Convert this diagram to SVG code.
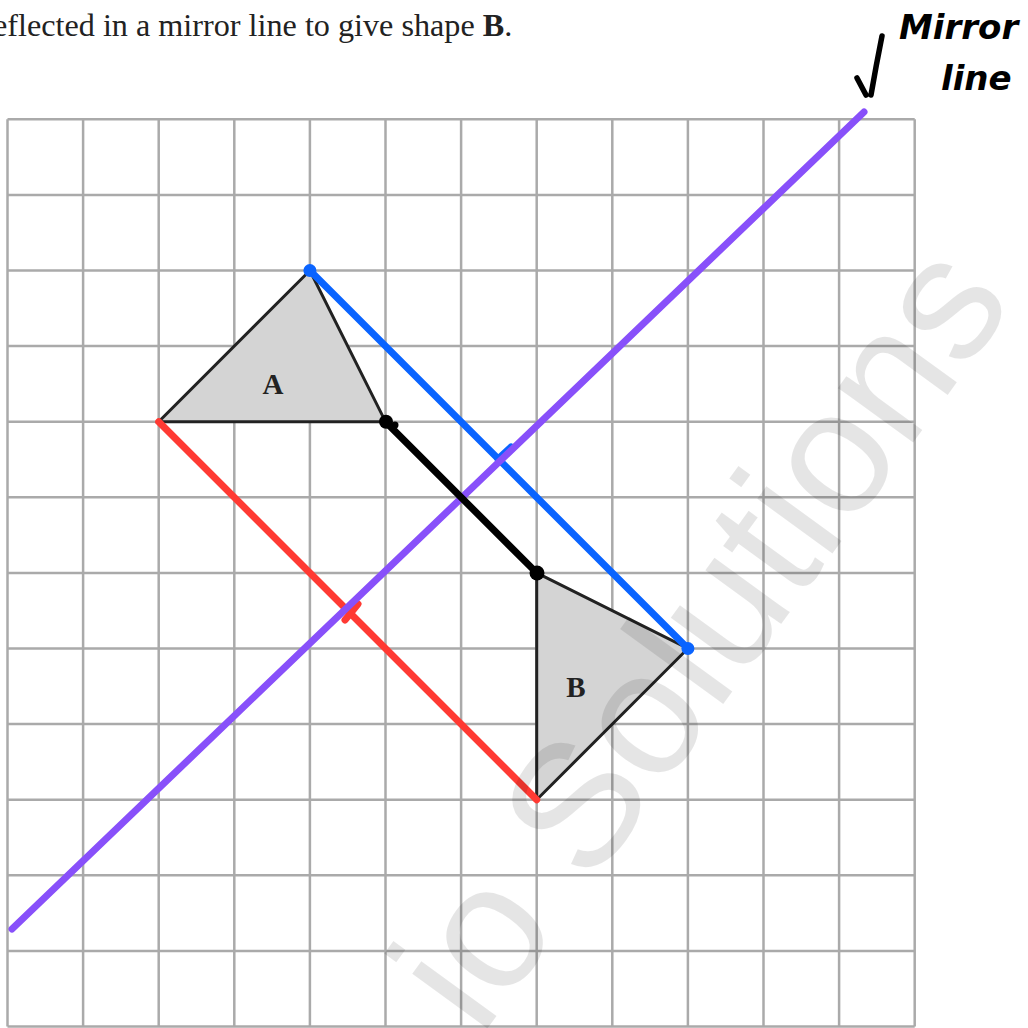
<svg xmlns="http://www.w3.org/2000/svg" width="1028" height="1028" viewBox="0 0 1028 1028">
<style>
.grid{stroke:#aaaaaa;stroke-width:2.5;fill:none}
.tri{fill:#d4d4d4;stroke:#222222;stroke-width:3;stroke-linejoin:miter}
.lbl{font-family:"Liberation Serif",serif;font-weight:bold;font-size:29px;fill:#222222;text-anchor:middle}
.hand{font-family:"DejaVu Sans",sans-serif;font-weight:bold;font-style:italic;font-size:34px;fill:#000}
.conn{fill:none;stroke-linecap:round;stroke-width:7}
</style>
<rect width="1028" height="1028" fill="#ffffff"/>
<text x="-7" y="36" font-family="Liberation Serif, serif" font-size="32.2" fill="#222222">eflected in a mirror line to give shape <tspan font-weight="bold">B</tspan>.</text>
<g id="grid">
<path class="grid" d="M7.5,119.3V1026.5M83.1,119.3V1026.5M158.7,119.3V1026.5M234.3,119.3V1026.5M309.9,119.3V1026.5M385.5,119.3V1026.5M461.1,119.3V1026.5M536.7,119.3V1026.5M612.3,119.3V1026.5M687.9,119.3V1026.5M763.5,119.3V1026.5M839.1,119.3V1026.5M914.7,119.3V1026.5M7.5,119.3H914.7M7.5,194.9H914.7M7.5,270.5H914.7M7.5,346.1H914.7M7.5,421.7H914.7M7.5,497.3H914.7M7.5,572.9H914.7M7.5,648.5H914.7M7.5,724.1H914.7M7.5,799.7H914.7M7.5,875.3H914.7M7.5,950.9H914.7M7.5,1026.5H914.7"/>
</g>
<g id="shapeA">
<polygon class="tri" points="309.9,270.5 158.7,421.7 385.5,421.7"/>
<text class="lbl" x="273" y="394">A</text>
</g>
<g id="shapeB">
<polygon class="tri" points="536.7,572.9 687.9,648.5 536.7,799.7"/>
<text class="lbl" x="576" y="697">B</text>
</g>
<g id="connectors">
<line class="conn" x1="158.7" y1="421.7" x2="536.7" y2="799.7" stroke="#ff3a33"/>
<line class="conn" x1="345" y1="620" x2="358" y2="604" stroke="#ff3a33" stroke-width="6"/>
<line class="conn" x1="309.9" y1="270.5" x2="687.9" y2="648.5" stroke="#0a64ff"/>
<line class="conn" x1="498" y1="459" x2="511" y2="447" stroke="#0a64ff" stroke-width="6"/>
<line class="conn" x1="12" y1="929" x2="864" y2="112" stroke="#8850fa"/>
<line class="conn" x1="385.5" y1="421.7" x2="536.7" y2="572.9" stroke="#000000"/>
<circle cx="309.9" cy="270.5" r="6.5" fill="#0a64ff"/>
<circle cx="687.9" cy="648.5" r="6.5" fill="#0a64ff"/>
<circle cx="386" cy="421.7" r="7" fill="#000"/>
<circle cx="395" cy="425" r="3.5" fill="#000"/>
<circle cx="537" cy="573" r="7.5" fill="#000"/>
</g>
<g id="handnote">
<text class="hand" x="899" y="39">Mirror</text>
<text class="hand" x="941" y="90">line</text>
<path d="M882,36 Q876,66 871,95 M857,78 L866,95" fill="none" stroke="#000" stroke-width="5.5" stroke-linecap="round"/>
</g>
<text transform="translate(480.5,1038) rotate(-54)" font-family="Liberation Sans, Arial, sans-serif" font-size="176" fill="#000" fill-opacity="0.1">io Solutions</text>
</svg>
